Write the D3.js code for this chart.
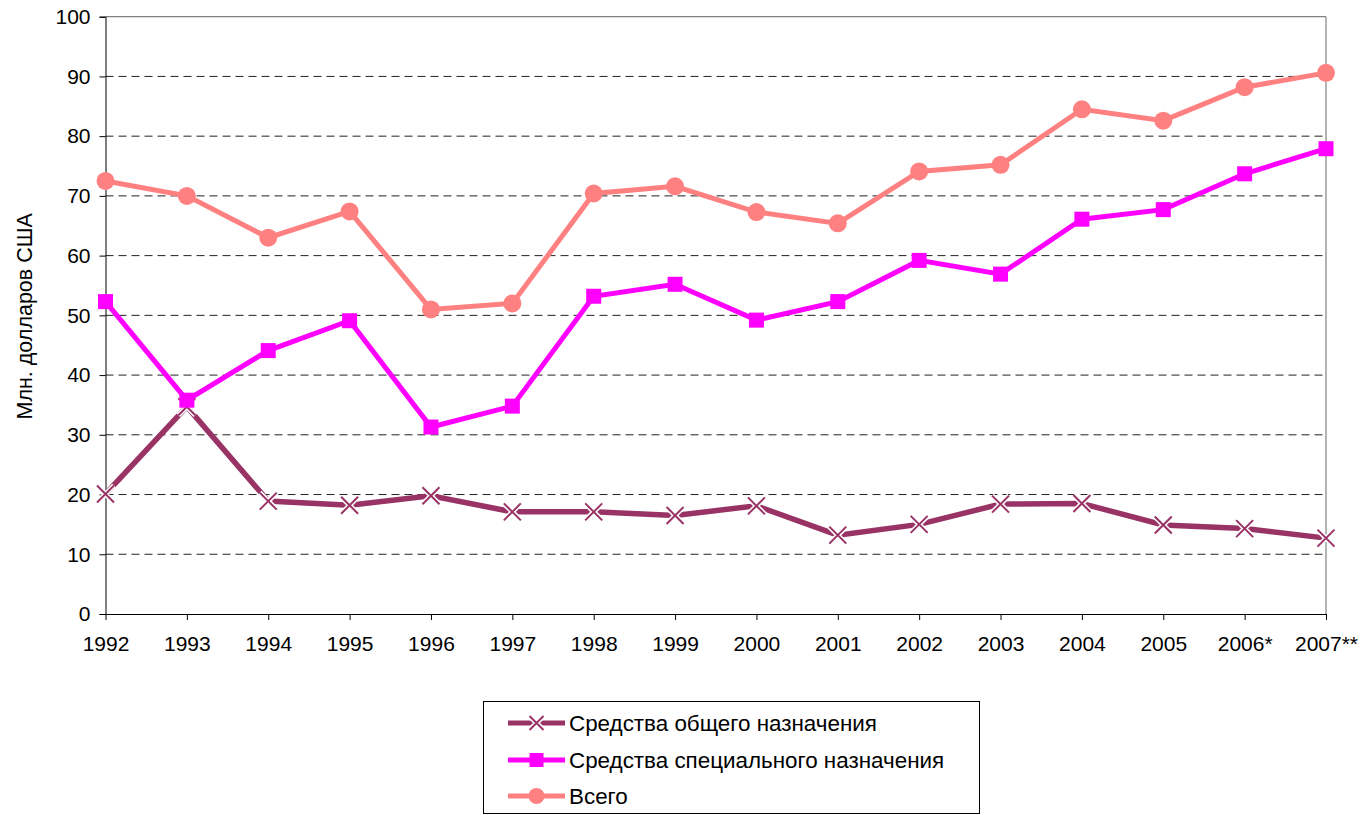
<!DOCTYPE html>
<html>
<head>
<meta charset="utf-8">
<script src="https://cdn.jsdelivr.net/npm/d3@7"></script>
<style>
  body { margin: 0; background: #fff; }
  svg { display: block; font-family: Arial, "Liberation Sans", sans-serif; }
</style>
</head>
<body>
<div id="chart"></div>
<script>
// data
const years = ['1992','1993','1994','1995','1996','1997','1998','1999','2000','2001','2002','2003','2004','2005','2006*','2007**']
const general = [20.1,34.7,18.9,18.2,19.8,17.1,17.1,16.5,18.1,13.2,15.0,18.4,18.5,14.9,14.3,12.7]
const special = [52.3,35.8,44.1,49.1,31.3,34.8,53.2,55.2,49.2,52.3,59.2,56.9,66.1,67.7,73.7,77.9]
const total = [72.5,70.0,63.0,67.4,51.0,52.0,70.4,71.6,67.3,65.4,74.1,75.2,84.5,82.6,88.2,90.6]
const seriesNames = ['Средства общего назначения','Средства специального назначения','Всего']
const yTicks = [0,10,20,30,40,50,60,70,80,90,100]

const width = 1363, height = 815
const pLeft = 105.5, pRight = 1326, pTop = 16.7, pBottom = 614
const fs = 21

const svg = d3.select('#chart').append('svg')
  .attr('width', width)
  .attr('height', height)

const x = d3.scalePoint().domain(years).range([pLeft, pRight])
const y = d3.scaleLinear().domain([0, 100]).range([pBottom, pTop])

// gridlines
svg.append('g')
  .selectAll('line')
  .data(yTicks.filter(d => d > 0 && d < 100))
  .join('line')
  .attr('x1', pLeft).attr('x2', pRight)
  .attr('y1', d => y(d)).attr('y2', d => y(d))
  .attr('stroke', '#222')
  .attr('stroke-width', 1)
  .attr('stroke-dasharray', '8,5')

// top + right border grey
svg.append('line')
  .attr('x1', pLeft).attr('x2', pRight).attr('y1', y(100)).attr('y2', y(100))
  .attr('stroke', '#808080').attr('stroke-width', 1.2)
svg.append('line')
  .attr('x1', pRight).attr('x2', pRight).attr('y1', pTop).attr('y2', pBottom)
  .attr('stroke', '#808080').attr('stroke-width', 1.2)

// axes
const yAxis = svg.append('g')
  .attr('transform', 'translate(' + pLeft + ',0)')
  .call(d3.axisLeft(y).tickValues(yTicks).tickSize(6).tickPadding(9))
yAxis.select('.domain').attr('stroke', '#000')
yAxis.selectAll('text').attr('font-size', fs).attr('fill', '#000').attr('font-family', 'Arial, "Liberation Sans", sans-serif')

const xAxis = svg.append('g')
  .attr('transform', 'translate(0,' + pBottom + ')')
  .call(d3.axisBottom(x).tickSize(6).tickPadding(16).tickSizeOuter(0))
xAxis.select('.domain').attr('stroke', '#000')
xAxis.selectAll('text').attr('font-size', fs).attr('fill', '#000').attr('font-family', 'Arial, "Liberation Sans", sans-serif')

svg.append('text')
  .attr('transform', 'translate(32,' + ((pTop + pBottom) / 2 + 1) + ') rotate(-90)')
  .attr('text-anchor', 'middle')
  .attr('font-size', 21.5)
  .text('Млн. долларов США')

const line = d3.line().x((d, i) => x(years[i])).y(d => y(d))

const colors = ['#993366', '#FF00FF', '#FF8080']

function drawX(g, cx, cy, s) {
  let p = 'M' + (cx - s) + ',' + (cy - s) + 'L' + (cx + s) + ',' + (cy + s) + 'M' + (cx - s) + ',' + (cy + s) + 'L' + (cx + s) + ',' + (cy - s)
  g.append('path').attr('d', p).attr('stroke', '#fff').attr('stroke-width', 5).attr('fill', 'none')
  g.append('path').attr('d', p).attr('stroke', colors[0]).attr('stroke-width', 2).attr('fill', 'none')
}

// general
let g0 = svg.append('g')
g0.append('path').datum(general).attr('d', line)
  .attr('fill', 'none').attr('stroke', colors[0]).attr('stroke-width', 5.5)
general.forEach((v, i) => drawX(g0, x(years[i]), y(v), 8.5))

// special
let g1 = svg.append('g')
g1.append('path').datum(special).attr('d', line)
  .attr('fill', 'none').attr('stroke', colors[1]).attr('stroke-width', 5)
g1.selectAll('rect').data(special).join('rect')
  .attr('x', (d, i) => x(years[i]) - 7.5)
  .attr('y', d => y(d) - 7.5)
  .attr('width', 15).attr('height', 15)
  .attr('fill', colors[1])

// total
let g2 = svg.append('g')
g2.append('path').datum(total).attr('d', line)
  .attr('fill', 'none').attr('stroke', colors[2]).attr('stroke-width', 5)
g2.selectAll('circle').data(total).join('circle')
  .attr('cx', (d, i) => x(years[i]))
  .attr('cy', d => y(d))
  .attr('r', 9)
  .attr('fill', colors[2])

// legend
const lg = svg.append('g')
lg.append('rect')
  .attr('x', 483.5).attr('y', 701.5).attr('width', 496).attr('height', 112)
  .attr('fill', '#fff').attr('stroke', '#000').attr('stroke-width', 1)
const rowsY = [723, 760, 796]
seriesNames.forEach((name, i) => {
  lg.append('line')
    .attr('x1', 508).attr('x2', 565).attr('y1', rowsY[i]).attr('y2', rowsY[i])
    .attr('stroke', colors[i]).attr('stroke-width', 5)
  if (i == 0) drawX(lg, 536.5, rowsY[i], 7)
  if (i == 1) lg.append('rect').attr('x', 529.5).attr('y', rowsY[i] - 7).attr('width', 14).attr('height', 14).attr('fill', colors[1])
  if (i == 2) lg.append('circle').attr('cx', 536.5).attr('cy', rowsY[i]).attr('r', 8).attr('fill', colors[2])
  lg.append('text')
    .attr('x', 569).attr('y', rowsY[i]).attr('dy', '0.35em')
    .attr('font-size', 22.4)
    .text(name)
})
</script>
</body>
</html>
